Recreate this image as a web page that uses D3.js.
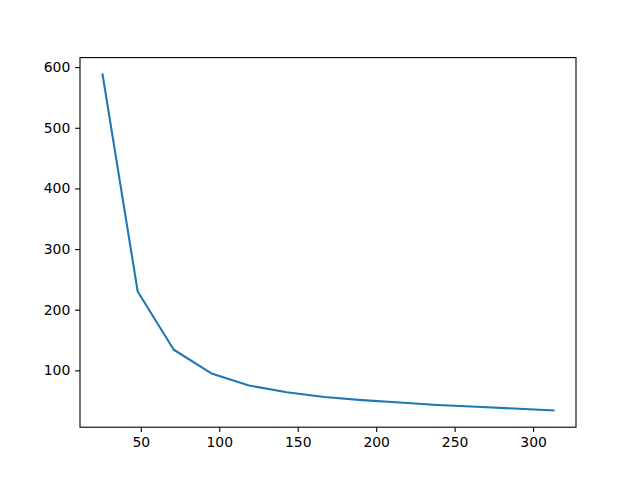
<!DOCTYPE html>
<html><head><meta charset="utf-8">
<script src="https://cdn.jsdelivr.net/npm/d3@7"></script>
<style>body{margin:0;background:#fff}</style>
</head><body>
<script>
const xValues = [25.6, 48, 71, 95, 119, 143, 167, 191, 215, 239, 264, 288, 313];
const yValues = [588, 230, 134, 95, 75, 64, 56, 51, 47, 43, 40, 37, 34];
const xTicks = [50, 100, 150, 200, 250, 300];
const yTicks = [100, 200, 300, 400, 500, 600];

const W = 640, H = 480;
const L = 80, R = 576, T = 57.6, B = 427.2;
const svg = d3.select("body").append("svg").attr("width", W).attr("height", H);

const xmin = d3.min(xValues), xmax = d3.max(xValues);
const ymin = d3.min(yValues), ymax = d3.max(yValues);
const xm = (xmax - xmin) * 0.05, ym = (ymax - ymin) * 0.05;
const x = d3.scaleLinear().domain([xmin - xm, xmax + xm]).range([L, R]);
const y = d3.scaleLinear().domain([ymin - ym, ymax + ym]).range([B, T]);

const data = xValues.map((v, i) => [v, yValues[i]]);
svg.append("path").datum(data)
  .attr("fill", "none").attr("stroke", "#1f77b4").attr("stroke-width", 2.08)
  .attr("stroke-linejoin", "round").attr("stroke-linecap", "square")
  .attr("d", d3.line().x(d => x(d[0])).y(d => y(d[1])));

const font = "DejaVu Sans, sans-serif";
const xAxis = svg.append("g").attr("transform", `translate(0,${B})`)
  .call(d3.axisBottom(x).tickValues(xTicks).tickSize(4.86).tickPadding(4.86).tickFormat(d3.format("d")));
const yAxis = svg.append("g").attr("transform", `translate(${L},0)`)
  .call(d3.axisLeft(y).tickValues(yTicks).tickSize(4.86).tickPadding(4.86).tickFormat(d3.format("d")));
[xAxis, yAxis].forEach(g => {
  g.select(".domain").remove();
  g.selectAll("line").attr("stroke", "#000").attr("stroke-width", 1.1);
  g.selectAll("text").attr("font-family", font).attr("font-size", "13.9px").attr("fill", "#000");
});

svg.append("rect").attr("x", L).attr("y", T).attr("width", R - L).attr("height", B - T)
  .attr("fill", "none").attr("stroke", "#000").attr("stroke-width", 1.1);
</script>
</body></html>
